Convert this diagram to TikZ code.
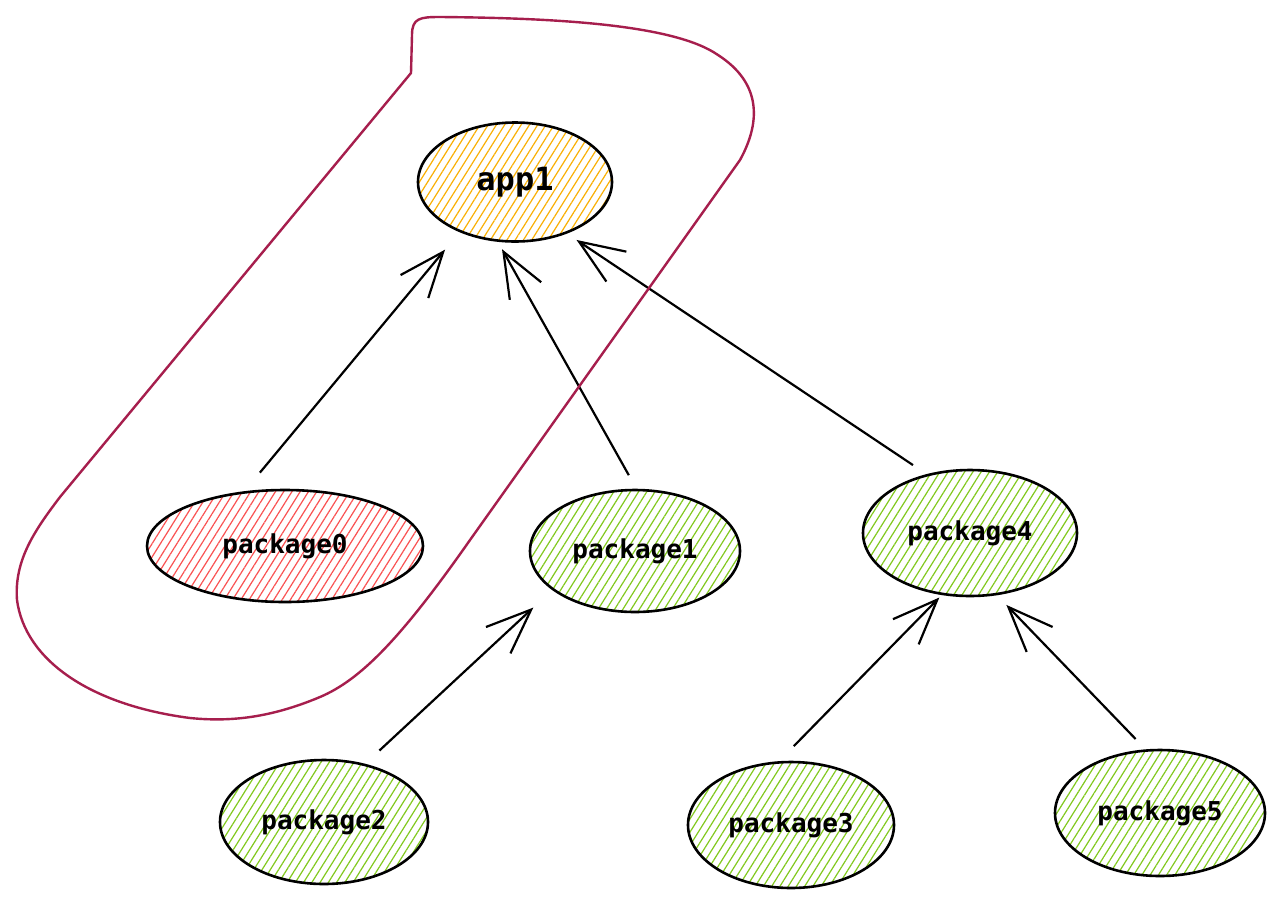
\documentclass[tikz,border=0pt]{standalone}
\usepackage{fontspec}
\newfontfamily\codefont{DejaVu Sans Mono}
\usetikzlibrary{shapes.geometric,arrows.meta,patterns.meta}
\definecolor{hatchorange}{HTML}{FAB005}
\definecolor{hatchred}{HTML}{FA5252}
\definecolor{hatchgreen}{HTML}{82C91E}
\definecolor{loopred}{HTML}{A61E4D}
\tikzset{
  blob/.style={ellipse, draw=black, line width=2.6pt, outer sep=0pt, inner sep=0pt,
    font=\codefont\bfseries\fontsize{26}{30}\selectfont},
  hatch/.style={pattern={Lines[angle=58,distance=7pt,line width=1.2pt]}, pattern color=#1},
  dep/.style={draw=black, line width=2.2pt,
    -{Straight Barb[length=45pt,width=36pt,line width=2.2pt]}},
  loopline/.style={draw=loopred, line width=2.4pt, line join=round}
}
\begin{document}
\begin{tikzpicture}[x=1pt,y=-1pt]
\useasboundingbox (0,0) rectangle (1280,906);
\fill[white] (0,0) rectangle (1280,906);

% nodes
\node[blob, hatch=hatchorange, minimum width=194pt, minimum height=119pt,
  font=\codefont\bfseries\fontsize{32}{36}\selectfont] (app1) at (515,182) {app1};
\node[blob, hatch=hatchred, minimum width=276pt, minimum height=112pt] (package0) at (285,546) {package0};
\node[blob, hatch=hatchgreen, minimum width=210pt, minimum height=122pt] (package1) at (635,551) {package1};
\node[blob, hatch=hatchgreen, minimum width=214pt, minimum height=126pt] (package4) at (970,533) {package4};
\node[blob, hatch=hatchgreen, minimum width=208pt, minimum height=124pt] (package2) at (324,822) {package2};
\node[blob, hatch=hatchgreen, minimum width=206pt, minimum height=126pt] (package3) at (791,825) {package3};
\node[blob, hatch=hatchgreen, minimum width=210pt, minimum height=126pt] (package5) at (1160,813) {package5};

% dependency arrows
\draw[dep, shorten <=26pt, shorten >=24pt] (package0.128.7) -- (app1.222.4);
\draw[dep, shorten <=17pt, shorten >=10pt] (package1.88.6) -- (app1.253.4);
\draw[dep, shorten <=18pt, shorten >=13pt] (package4.126.5) -- (app1.315.8);
\draw[dep, shorten <=21pt, shorten >=27pt] (package2.55.8) -- (package1.205.9);
\draw[dep, shorten <=23pt, shorten >=5pt] (package3.102.1) -- (package4.246.9);
\draw[dep, shorten <=16pt, shorten >=15pt] (package5.102.5) -- (package4.293.4);

% selection loop
\draw[loopline] (411,73) -- (412,35) .. controls (412,18) and (420,17) .. (440,17)
  .. controls (560,18) and (675,25) .. (718,55)
  .. controls (760,82) and (762,120) .. (740,160)
  -- (470,540)
  .. controls (400,640) and (360,680) .. (320,697)
  .. controls (270,718) and (230,722) .. (190,718)
  .. controls (90,705) and (25,660) .. (17,600)
  .. controls (14,560) and (35,530) .. (60,497)
  -- cycle;
\end{tikzpicture}
\end{document}
